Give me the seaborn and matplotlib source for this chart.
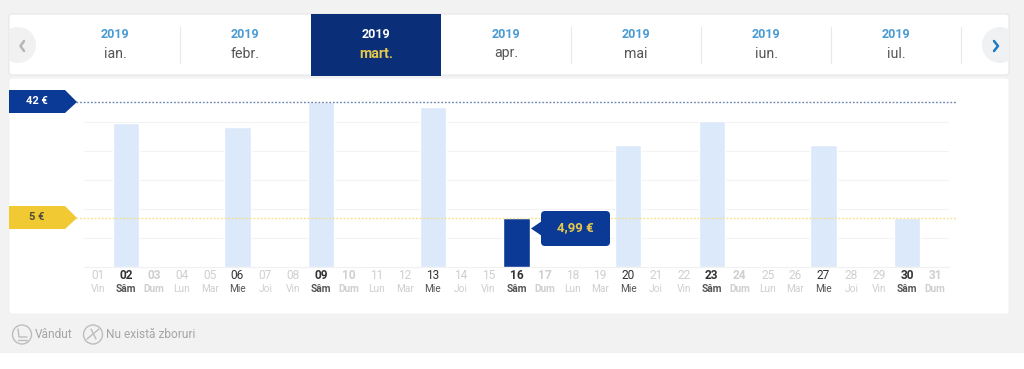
import numpy as np
import pandas as pd
import matplotlib
matplotlib.use("Agg")
import matplotlib.pyplot as plt
from matplotlib.patches import FancyBboxPatch, Polygon, Rectangle, Circle
import seaborn as sns

days = ["01","02","03","04","05","06","07","08","09","10","11","12","13","14","15","16",
        "17","18","19","20","21","22","23","24","25","26","27","28","29","30","31"]
weekdays = ["Vin","Sâm","Dum","Lun","Mar","Mie","Joi","Vin","Sâm","Dum","Lun","Mar","Mie","Joi","Vin","Sâm",
            "Dum","Lun","Mar","Mie","Joi","Vin","Sâm","Dum","Lun","Mar","Mie","Joi","Vin","Sâm","Dum"]
prices = [None,35.4,None,None,None,34.1,None,None,42.0,None,None,None,40.3,None,None,5.0,
          None,None,None,28.2,None,None,36.0,None,None,None,28.2,None,None,5.0,None]
selected_day = "16"
grid_eur = [2.96, 7.87, 17.1, 26.4, 35.6]
months = ["ian.","febr.","mart.","apr.","mai","iun.","iul."]
years = ["2019"]*7
month_x = [115,245,376,506,636,766,896]
separators = [180,571,701,831,961]

navy = "#0a2f78"
blue = "#0b3a96"
yellow = "#f1c933"
light = "#dbe9fb"

sns.set_style("white")
plt.rcParams["font.family"] = ["Roboto", "DejaVu Sans"]

W, H = 1024, 369
fig = plt.figure(figsize=(W/100, H/100), dpi=100, facecolor="white")

# background cards, coordinates in pixels
bg = fig.add_axes([0,0,1,1], zorder=1)
bg.set_xlim(0,W); bg.set_ylim(H,0); bg.axis("off")
bg.add_patch(Rectangle((0,0), W, 353, color="#f2f2f2", lw=0))
top_card = FancyBboxPatch((9,14), 1000, 61, boxstyle="round,pad=0,rounding_size=3", fc="white", ec="#e6e6e6", lw=0.8)
bg.add_patch(top_card)
bg.add_patch(FancyBboxPatch((9,78), 1000, 236, boxstyle="round,pad=0,rounding_size=3", fc="white", ec="#f0f0f0", lw=0.6))
bg.add_patch(Rectangle((311,14), 130, 62, color=navy, lw=0))
for x in separators:
    bg.plot([x,x], [27,63], color="#e8e8e8", lw=0.8)

# arrows at both ends of the month strip
left_c = Circle((18,45), 18, color="#f1f1f1", lw=0)
right_c = Circle((1000,45), 18, color="#eff1f3", lw=0)
bg.add_patch(left_c); bg.add_patch(right_c)
left_c.set_clip_path(top_card); right_c.set_clip_path(top_card)
bg.plot([24,20.5,24], [41,46,51], color="#b5b5b5", lw=1.8)
bg.plot([994,998,994], [41,46,51], color="#1f7ac4", lw=1.8)

for i, (y, m, x) in enumerate(zip(years, months, month_x)):
    sel = m == "mart."
    bg.text(x, 35, y, ha="center", va="center", fontsize=9, fontweight="bold", color="white" if sel else "#4a9ad4")
    bg.text(x, 53.5, m, ha="center", va="center", fontsize=10.2, fontweight="bold" if sel else "normal",
            color="#e6c84a" if sel else "#555555")

# legend row
for cx, label, tx in [(22,"Vândut",35),(93,"Nu există zboruri",106)]:
    bg.add_patch(Circle((cx,334.5), 9.5, fc="none", ec="#bdbdbd", lw=1))
    bg.text(tx, 334.5, label, ha="left", va="center", fontsize=8.6, color="#a5a5a5")
bg.plot([18,19,27], [329,337,337], color="#bdbdbd", lw=1)
bg.plot([18,27], [340,340], color="#bdbdbd", lw=1)
bg.plot([87,99], [339,329], color="#bdbdbd", lw=1)
bg.plot([91,96], [329,339], color="#bdbdbd", lw=1)

# chart area: baseline at y=267, 5 EUR at y=218, 42 EUR at y=102
ax = fig.add_axes([84/W, 1-267/H, 865/W, 165/H], zorder=2)
ax.patch.set_alpha(0)
df = pd.DataFrame({"day":days, "price":prices})
df["price"] = df["price"].astype(float)
df["sel"] = df["day"] == selected_day

px_eur = [0,5,42,60]
px_h = [0,49,165,221]
ax.set_yscale("function", functions=(lambda v: np.interp(v, px_eur, px_h), lambda h: np.interp(h, px_h, px_eur)))
sns.barplot(data=df, x="day", y="price", hue="sel", palette={False:light, True:blue}, dodge=False, saturation=1,
            width=0.95, legend=False, order=days, ax=ax, zorder=3)
ax.set_xlim(-0.5,30.5)
ax.set_ylim(0,42)
ax.set_xlabel(""); ax.set_ylabel("")
ax.set_yticks(grid_eur)
ax.set_yticklabels([])
ax.minorticks_off()
ax.grid(axis="y", color="#f3f3f3", lw=0.8, zorder=0)
ax.set_axisbelow(True)
ax.tick_params(axis="both", length=0)
ax.tick_params(axis="x", pad=1.5)
for s in ["top","left","right"]:
    ax.spines[s].set_visible(False)
ax.spines["bottom"].set_color("#f0f0f0")

ax.set_xticks(range(len(days)))
ax.set_xticklabels(days)
for i, lab in enumerate(ax.get_xticklabels()):
    wd = weekdays[i]
    dark = prices[i] is not None
    lab.set_fontsize(8.6)
    lab.set_color("#333333" if dark else "#cfcfcf")
    lab.set_fontweight("bold" if wd in ("Sâm","Dum") else "normal")
    ax.annotate(wd, xy=(i,0), xycoords=("data","axes fraction"), xytext=(0,-15.5), textcoords="offset points",
                ha="center", va="center", fontsize=7.3, color="#555555" if dark else "#cfcfcf",
                fontweight="bold" if wd in ("Sâm","Dum") else "normal")

# price tags drawn over the bars
top = fig.add_axes([0,0,1,1], zorder=3)
top.set_xlim(0,W); top.set_ylim(H,0); top.axis("off")
top.plot([76,957], [102,102], color="#6f86b0", lw=1, ls=(0,(1.3,1.3)), zorder=1)
top.plot([76,957], [218,218], color="#f3e08a", lw=1, ls=(0,(1.3,1.3)), zorder=1)
top.add_patch(Polygon([(9,90),(65,90),(77,102),(65,113),(9,113)], closed=True, color=blue, lw=0, zorder=2))
top.add_patch(Polygon([(9,206),(65,206),(77,218),(65,229),(9,229)], closed=True, color=yellow, lw=0, zorder=2))
top.text(37, 101.5, "42 €", ha="center", va="center", fontsize=8, fontweight="bold", color="white")
top.text(37, 217.5, "5 €", ha="center", va="center", fontsize=8, fontweight="bold", color="#4d4d3a")
top.add_patch(FancyBboxPatch((541,211), 69, 35, boxstyle="round,pad=0,rounding_size=4", fc=blue, ec="none", zorder=2))
top.add_patch(Polygon([(531,228.5),(542,221),(542,236)], closed=True, color=blue, lw=0, zorder=2))
top.text(575.5, 228, "4,99 €", ha="center", va="center", fontsize=9.5, fontweight="bold", color="#e6c84a")

fig.savefig("out.png", dpi=100)
